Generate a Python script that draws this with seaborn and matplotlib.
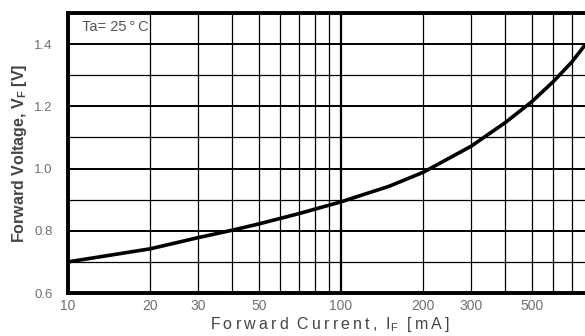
import matplotlib
matplotlib.use("Agg")
import matplotlib.pyplot as plt
import seaborn as sns
import pandas as pd

current_ma = [10, 20, 30, 40, 50, 70, 100, 150, 200, 300, 400, 500, 600, 700, 783]
voltage_v = [0.700, 0.742, 0.778, 0.802, 0.822, 0.855, 0.893, 0.943, 0.988, 1.072, 1.148, 1.215, 1.280, 1.342, 1.397]
x_ticks = [10, 20, 30, 50, 100, 200, 300, 500]
x_ticklabels = ["10", "20", "30", "50", "100", "200", "300", "500"]
y_ticks = [0.6, 0.8, 1.0, 1.2, 1.4]
y_ticklabels = ["0.6", "0.8", "1.0", "1.2", "1.4"]
x_minor = [20, 30, 40, 50, 60, 70, 80, 90, 200, 300, 400, 500, 600, 700, 800, 900]
y_minor = [0.7, 0.9, 1.1, 1.3]
y_major = [0.8, 1.0, 1.2, 1.4]

sns.set_style("white")
plt.rcParams['font.family'] = ['Liberation Sans', 'DejaVu Sans']

df = pd.DataFrame({"I": current_ma, "V": voltage_v})

fig = plt.figure(figsize=(5.85, 3.36), dpi=100)
W, H = 585, 336
left, right, bottom, top = 68, 614, 293, 13
ax = fig.add_axes([left / W, 1 - bottom / H, (right - left) / W, (bottom - top) / H])
ax.set_xscale("log")
ax.set_xlim(10, 1000)
ax.set_ylim(0.6, 1.5)

for xv in x_minor:
    ax.axvline(xv, color="black", lw=0.9, zorder=1)
ax.axvline(100, color="black", lw=1.6, zorder=1)
for yv in y_minor:
    ax.axhline(yv, color="black", lw=0.9, zorder=1)
for yv in y_major:
    ax.axhline(yv, color="black", lw=1.4, zorder=1)

sns.lineplot(data=df, x="I", y="V", ax=ax, color="black", lw=2.6, zorder=3)

ax.set_xticks(x_ticks)
ax.set_xticklabels(x_ticklabels)
ax.minorticks_off()
ax.set_xticks([], minor=True)
ax.set_yticks(y_ticks)
ax.set_yticklabels(y_ticklabels)
ax.tick_params(axis="x", length=0, labelsize=10, colors="#707070", pad=4)
ax.tick_params(axis="y", length=0, labelsize=9.5, colors="#707070", pad=11)
for s in ax.spines.values():
    s.set_linewidth(2.8)
    s.set_color("black")
ax.spines["right"].set_visible(False)

ts = "\u2009"
xlab = ts.join("Forward") + "  " + ts.join("Current,") + "  I$_\\mathregular{F}$  " + ts.join("[mA]")
ax.set_xlabel(xlab, fontsize=11.5, color="#444444")
ax.xaxis.label.set_va("center")
ax.xaxis.set_label_coords((330 - left) / (right - left), (bottom - 325) / (bottom - top))

ax.set_ylabel("Forward Voltage, V$_\\mathregular{F}$ [V]", fontsize=11.5, color="#444444", fontweight="bold")
ax.yaxis.label.set_va("center")
ax.yaxis.set_label_coords((20 - left) / (right - left), (bottom - 153) / (bottom - top))

ax.text(11.25, 1.455, "Ta= 25\u2009°\u2009C", fontsize=10.5, color="#555555", va="center", ha="left", zorder=2)

fig.savefig("out.png", dpi=100)
